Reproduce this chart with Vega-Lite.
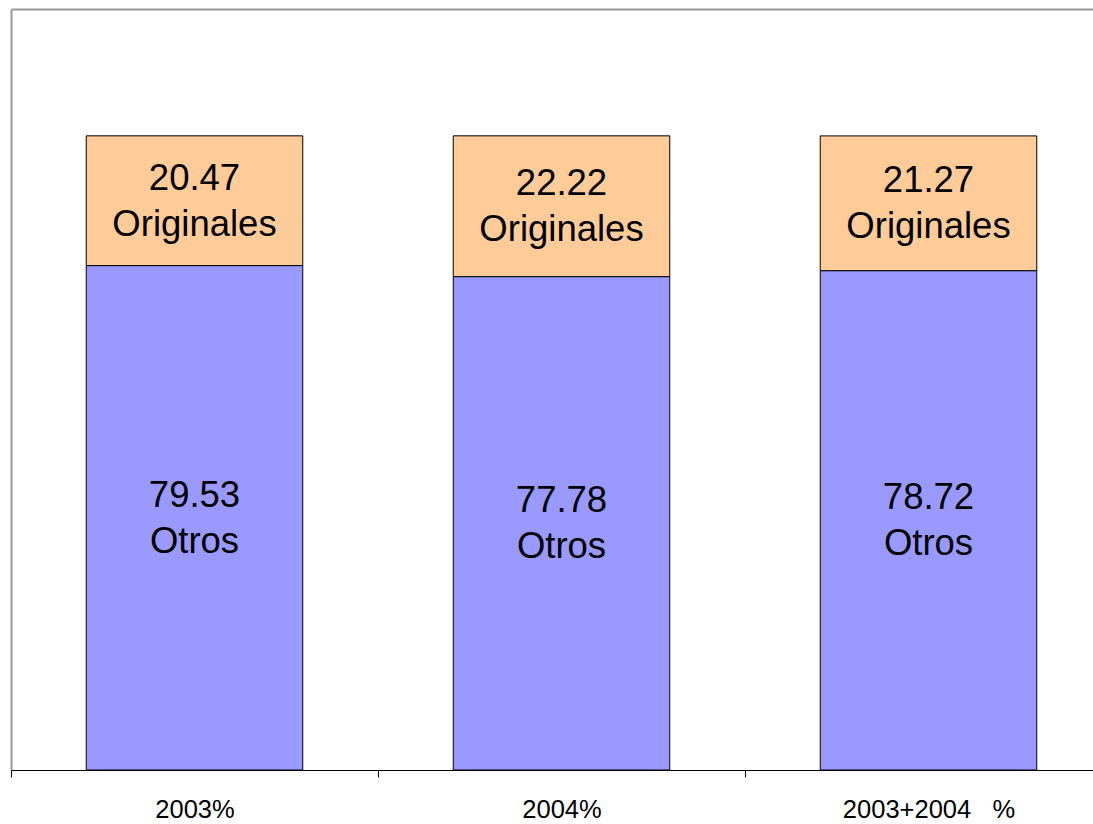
{
  "$schema": "https://vega.github.io/schema/vega-lite/v6.json",
  "width": 1082,
  "height": 761,
  "autosize": {"type": "none"},
  "padding": {"left": 11, "top": 9, "right": 0, "bottom": 54},
  "background": "white",
  "config": {
    "view": {"stroke": null},
    "font": "Liberation Sans"
  },
  "data": {
    "values": [
      {"cat": "2003%", "serie": "Originales", "valor": 20.47, "etiqueta": "20.47\nOriginales"},
      {"cat": "2003%", "serie": "Otros", "valor": 79.53, "etiqueta": "79.53\nOtros"},
      {"cat": "2004%", "serie": "Originales", "valor": 22.22, "etiqueta": "22.22\nOriginales"},
      {"cat": "2004%", "serie": "Otros", "valor": 77.78, "etiqueta": "77.78\nOtros"},
      {"cat": "2003+2004\u00a0\u00a0\u00a0%", "serie": "Originales", "valor": 21.27, "etiqueta": "21.27\nOriginales"},
      {"cat": "2003+2004\u00a0\u00a0\u00a0%", "serie": "Otros", "valor": 78.72, "etiqueta": "78.72\nOtros"}
    ]
  },
  "transform": [
    {"stack": "valor", "groupby": ["cat"], "sort": [{"field": "serie", "order": "descending"}], "as": ["y0", "y1"]},
    {"calculate": "(datum.y0 + datum.y1) / 2", "as": "mid"}
  ],
  "resolve": {"axis": {"x": "independent", "y": "independent"}},
  "layer": [
    {
      "mark": {"type": "bar", "stroke": "black", "strokeWidth": 1},
      "encoding": {
        "x": {
          "field": "cat",
          "type": "nominal",
          "sort": null,
          "scale": {"range": [0, 1101], "paddingInner": 0.41, "paddingOuter": 0.205},
          "axis": {
            "title": null,
            "labelAngle": 0,
            "labelFontSize": 25.5,
            "labelColor": "black",
            "labelPadding": 20,
            "domainColor": "black",
            "domainWidth": 1,
            "tickColor": "black",
            "tickSize": 7,
            "tickOffset": -183.5,
            "labelOffset": 183.5,
            "labelFont": "Liberation Sans",
            "zindex": 2
          }
        },
        "y": {
          "field": "y0",
          "type": "quantitative",
          "scale": {"domain": [0, 120]},
          "axis": {"title": null, "labels": false, "ticks": false, "grid": false, "domainColor": "#999999", "domainWidth": 2, "zindex": 1}
        },
        "y2": {"field": "y1"},
        "color": {
          "field": "serie",
          "type": "nominal",
          "scale": {"domain": ["Originales", "Otros"], "range": ["#FFCC99", "#9999FF"]},
          "legend": null
        }
      }
    },
    {
      "mark": {"type": "text", "fontSize": 36.5, "color": "black", "lineBreak": "\n", "lineHeight": 46, "baseline": "middle", "align": "center", "dy": -22, "font": "Liberation Sans"},
      "encoding": {
        "x": {
          "field": "cat",
          "type": "nominal",
          "sort": null,
          "axis": {"orient": "top", "title": null, "labels": false, "ticks": false, "domainColor": "#999999", "domainWidth": 2}
        },
        "y": {"field": "mid", "type": "quantitative", "axis": null},
        "text": {"field": "etiqueta"}
      }
    }
  ]
}
